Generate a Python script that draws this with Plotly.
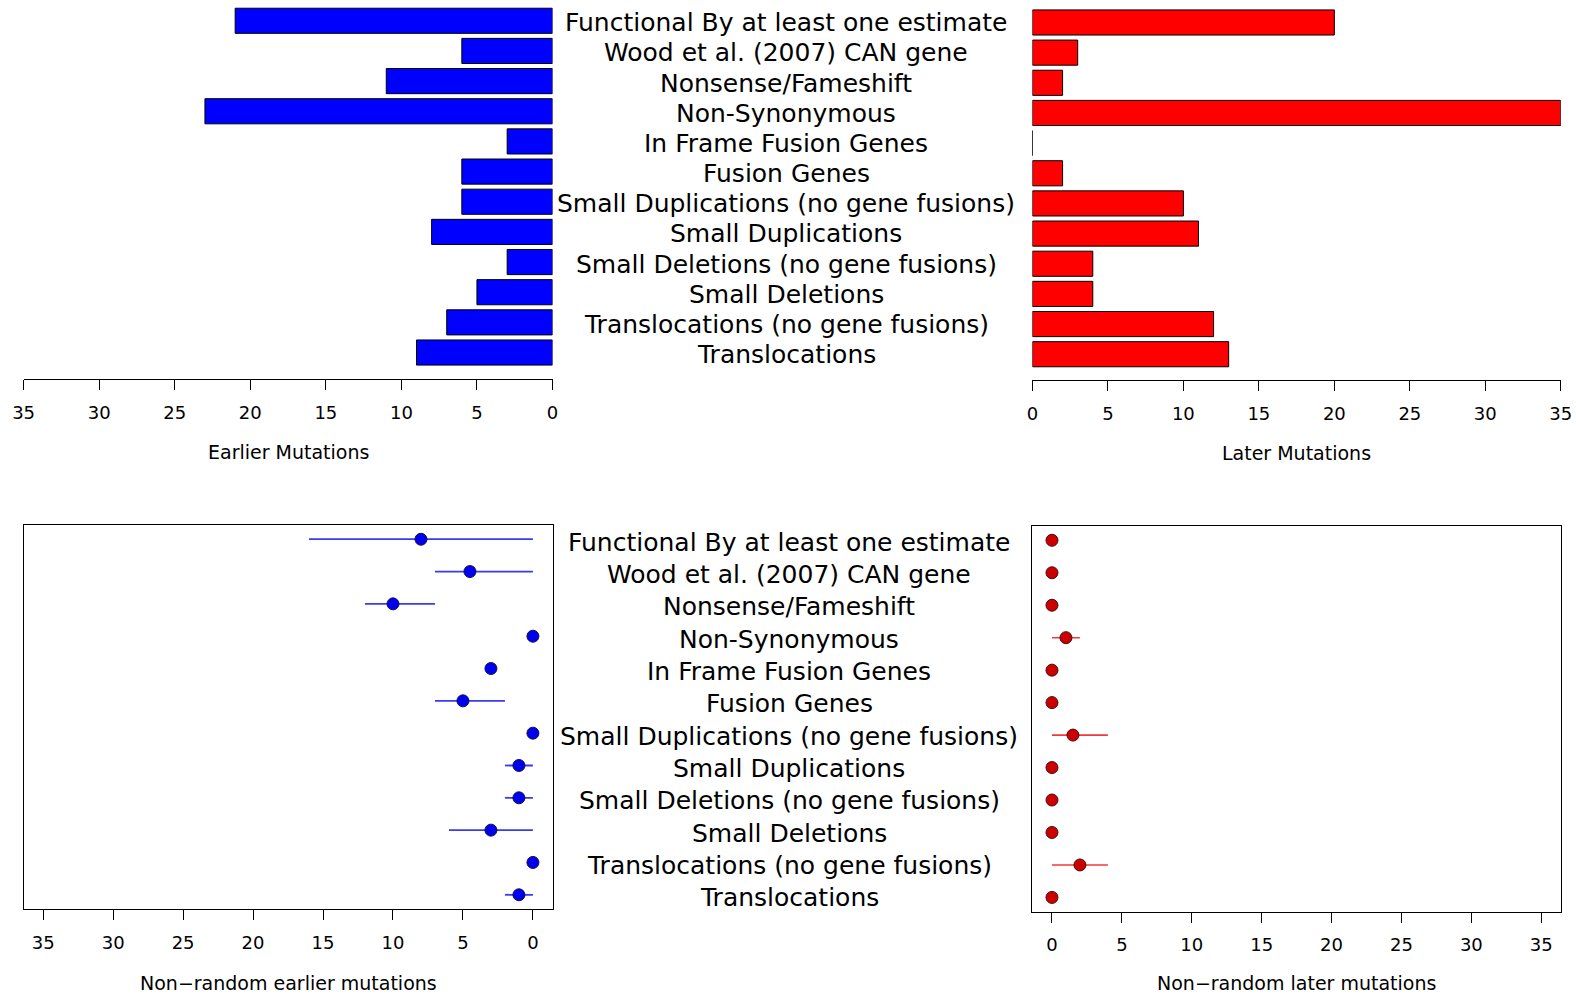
import plotly.graph_objects as go

W, H = 1576, 996

categories = [
    "Functional By at least one estimate",
    "Wood et al. (2007) CAN gene",
    "Nonsense/Fameshift",
    "Non-Synonymous",
    "In Frame Fusion Genes",
    "Fusion Genes",
    "Small Duplications (no gene fusions)",
    "Small Duplications",
    "Small Deletions (no gene fusions)",
    "Small Deletions",
    "Translocations (no gene fusions)",
    "Translocations",
]

earlier = [21, 6, 11, 23, 3, 6, 6, 8, 3, 5, 7, 9]
later = [20, 3, 2, 35, 0, 2, 10, 11, 4, 4, 12, 13]

nonrandom_earlier = [8, 4.5, 10, 0, 3, 5, 0, 1, 1, 3, 0, 1]
nonrandom_earlier_lo = [0, 0, 7, 0, 3, 2, 0, 0, 0, 0, 0, 0]
nonrandom_earlier_hi = [16, 7, 12, 0, 3, 7, 0, 2, 2, 6, 0, 2]

nonrandom_later = [0, 0, 0, 1, 0, 0, 1.5, 0, 0, 0, 2, 0]
nonrandom_later_lo = [0, 0, 0, 0, 0, 0, 0, 0, 0, 0, 0, 0]
nonrandom_later_hi = [0, 0, 0, 2, 0, 0, 4, 0, 0, 0, 4, 0]

tick_vals = [0, 5, 10, 15, 20, 25, 30, 35]

FONT = "DejaVu Sans"


def px_x(p):
    return p / W


def px_y(p):
    return 1 - p / H


fig = go.Figure()

fig.add_trace(go.Bar(
    x=earlier, y=categories, orientation="h",
    marker=dict(color="#0000FF", line=dict(color="black", width=1)),
    xaxis="x", yaxis="y", showlegend=False,
))
fig.add_trace(go.Bar(
    x=later, y=categories, orientation="h",
    marker=dict(color="#FF0000", line=dict(color="black", width=1)),
    xaxis="x2", yaxis="y2", showlegend=False,
))

fig.add_trace(go.Scatter(
    x=nonrandom_earlier, y=categories, mode="markers",
    marker=dict(color="#0000EE", size=12, line=dict(color="#101050", width=1)),
    error_x=dict(type="data", symmetric=False,
                 array=[h - p for h, p in zip(nonrandom_earlier_hi, nonrandom_earlier)],
                 arrayminus=[p - l for p, l in zip(nonrandom_earlier, nonrandom_earlier_lo)],
                 width=0, thickness=1.8, color="#3A3AF0"),
    xaxis="x3", yaxis="y3", showlegend=False,
))
fig.add_trace(go.Scatter(
    x=nonrandom_later, y=categories, mode="markers",
    marker=dict(color="#CC0000", size=12, line=dict(color="#401010", width=1)),
    error_x=dict(type="data", symmetric=False,
                 array=[h - p for h, p in zip(nonrandom_later_hi, nonrandom_later)],
                 arrayminus=[p - l for p, l in zip(nonrandom_later, nonrandom_later_lo)],
                 width=0, thickness=1.6, color="#F03A3A"),
    xaxis="x4", yaxis="y4", showlegend=False,
))

tickfont = dict(family=FONT, size=18, color="black")
common_x = dict(
    tickmode="array", tickvals=tick_vals, ticks="outside", ticklen=10,
    tickwidth=1, tickcolor="black", showline=True, linecolor="black",
    linewidth=1, showgrid=False, zeroline=False, tickfont=tickfont,
    ticklabelstandoff=7, fixedrange=True, automargin=False,
)

left_dom = [px_x(23.6), px_x(552.5)]
right_dom = [px_x(1032.4), px_x(1560.8)]

fig.update_layout(
    width=W, height=H,
    margin=dict(l=0, r=0, t=0, b=0, pad=0, autoexpand=False),
    paper_bgcolor="white", plot_bgcolor="white",
    bargap=0.167,
    xaxis=dict(domain=left_dom, range=[35, 0], anchor="free",
               position=px_y(379), **common_x),
    yaxis=dict(domain=[px_y(367.6), px_y(5.7)], type="category",
               categoryarray=categories, range=[11.5, -0.5], visible=False,
               anchor="x", automargin=False, fixedrange=True),
    xaxis2=dict(domain=right_dom, range=[0, 35], anchor="free",
                position=px_y(380), **common_x),
    yaxis2=dict(domain=[px_y(369.3), px_y(7.4)], type="category",
                categoryarray=categories, range=[11.5, -0.5], visible=False,
                anchor="x2", automargin=False, fixedrange=True),
    xaxis3=dict(domain=left_dom, range=[36.4, -1.4], anchor="y3",
                mirror=True, **common_x),
    yaxis3=dict(domain=[px_y(909), px_y(525)], type="category",
                categoryarray=categories, range=[11.44, -0.44],
                showticklabels=False, ticks="", showline=True, mirror=True,
                linecolor="black", linewidth=1, showgrid=False, anchor="x3",
                automargin=False, fixedrange=True),
    xaxis4=dict(domain=right_dom, range=[-1.4, 36.4], anchor="y4",
                mirror=True, **common_x),
    yaxis4=dict(domain=[px_y(911.7), px_y(526)], type="category",
                categoryarray=categories, range=[11.44, -0.44],
                showticklabels=False, ticks="", showline=True, mirror=True,
                linecolor="black", linewidth=1, showgrid=False, anchor="x4",
                automargin=False, fixedrange=True),
)

label_font = dict(family=FONT, size=25, color="black")
annotations = []
for c in categories:
    annotations.append(dict(x=px_x(786), xref="paper", y=c, yref="y",
                            text=c, showarrow=False, font=label_font,
                            xanchor="center", yanchor="middle", yshift=-2))
    annotations.append(dict(x=px_x(789), xref="paper", y=c, yref="y3",
                            text=c, showarrow=False, font=label_font,
                            xanchor="center", yanchor="middle", yshift=-3))

title_font = dict(family=FONT, size=19, color="black")
for txt, cx, cy in [
    ("Earlier Mutations", 288, 452),
    ("Later Mutations", 1296.6, 453),
    ("Non\u2212random earlier mutations", 288, 983),
    ("Non\u2212random later mutations", 1296.6, 983),
]:
    annotations.append(dict(x=px_x(cx), y=px_y(cy), xref="paper", yref="paper",
                            text=txt, showarrow=False, font=title_font,
                            xanchor="center", yanchor="middle"))

fig.update_layout(annotations=annotations)

fig.write_html(
    "out.html",
    config={"responsive": False, "displayModeBar": False},
    post_script="document.body.style.margin='0px';document.body.style.overflow='hidden';",
)
